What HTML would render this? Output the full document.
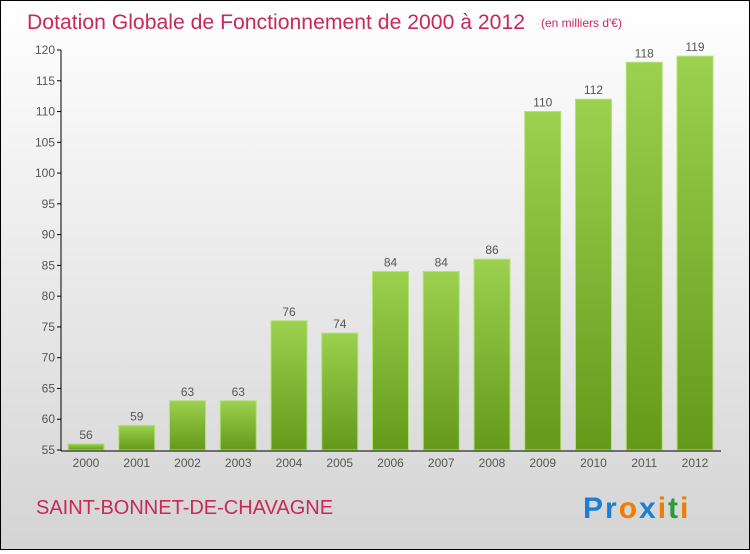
<!DOCTYPE html>
<html><head><meta charset="utf-8"><style>
html,body{margin:0;padding:0}
body{width:750px;height:550px;overflow:hidden;font-family:"Liberation Sans",sans-serif}
#wrap{position:absolute;left:0;top:0;width:748px;height:548px;border:1px solid #000;background:linear-gradient(#ffffff,#d4d4d4)}
</style></head><body>
<div id="wrap">
<svg id="svg" width="748" height="548" xmlns="http://www.w3.org/2000/svg">
<defs><linearGradient id="bg" x1="0" y1="0" x2="0" y2="1"><stop offset="0" stop-color="#9cd14f"/><stop offset="1" stop-color="#64991a"/></linearGradient></defs>
<text x="26" y="28" font-size="21" fill="#c8285a" textLength="498" lengthAdjust="spacingAndGlyphs">Dotation Globale de Fonctionnement de 2000 à 2012</text>
<text x="540" y="26" font-size="12" fill="#c8285a">(en milliers d'€)</text>
<text x="35" y="513" font-size="20" fill="#c8285a">SAINT-BONNET-DE-CHAVAGNE</text>
<text x="582" y="517" font-size="30" font-weight="bold" letter-spacing="2"><tspan fill="#1a7fd6">Pr</tspan><tspan fill="#f07c00">o</tspan><tspan fill="#1a7fd6">x</tspan><tspan fill="#f07c00">i</tspan><tspan fill="#2a9a3a">t</tspan><tspan fill="#f07c00">i</tspan></text>
<g id="plot"></g>
</svg></div>
<script>
const categories=["2000","2001","2002","2003","2004","2005","2006","2007","2008","2009","2010","2011","2012"];
const values=[56,59,63,63,76,74,84,84,86,110,112,118,119];
const yTicks=[55,60,65,70,75,80,85,90,95,100,105,110,115,120];
const yMin=55,yMax=120;
const ns="http://www.w3.org/2000/svg";
const g=document.getElementById('plot');
const y=v=>449-(v-yMin)/(yMax-yMin)*400;
const x=i=>85+i*50.75;
function mk(t,a){const e=document.createElementNS(ns,t);for(const k in a)e.setAttribute(k,a[k]);g.appendChild(e);return e;}
yTicks.forEach(v=>{
 const l=mk('line',{x1:56,x2:60,y1:y(v),y2:y(v),stroke:'#000'});
 
 
 const t=mk('text',{x:54,y:y(v)+4,'text-anchor':'end','font-size':12,fill:'#555'});
 t.textContent=v;
 
 
});
values.forEach((v,i)=>{
 const r=mk('rect',{x:x(i)-18,y:y(v),width:36,height:449-y(v),fill:'url(#bg)',stroke:'#b5e07a','stroke-width':1});
 
 
 const t=mk('text',{x:x(i),y:y(v)-5,'text-anchor':'middle','font-size':12,fill:'#555'});
 t.textContent=v;
 
 
 const c=mk('text',{x:x(i),y:466,'text-anchor':'middle','font-size':12,fill:'#555'});
 c.textContent=categories[i];
 
 
});
const ya=mk('line',{x1:60,x2:60,y1:49,y2:450,stroke:'#000'});


const xa=mk('line',{x1:60,x2:720,y1:450,y2:450,stroke:'#000'});


</script>
</body></html>
